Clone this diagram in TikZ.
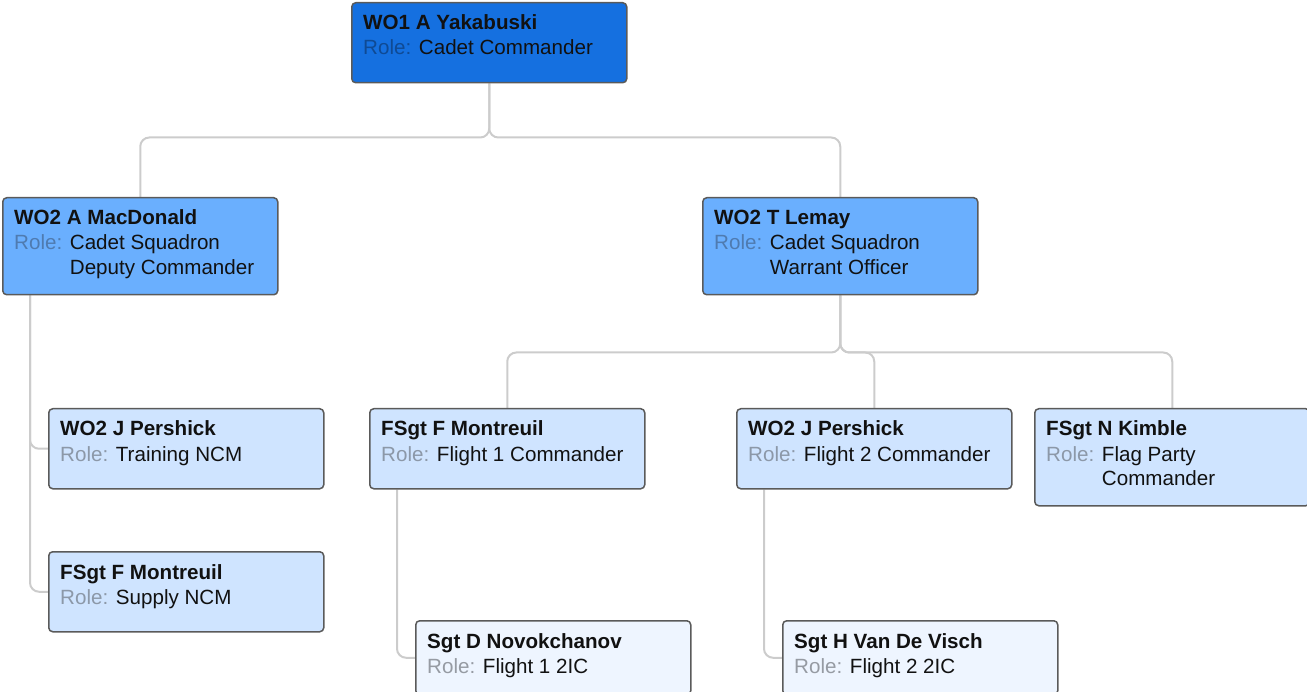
\documentclass[tikz,border=0pt]{standalone}
\usepackage{fontspec}
\setmainfont{Liberation Sans}
\usetikzlibrary{backgrounds}
\definecolor{lvlA}{HTML}{1570E0}
\definecolor{lvlB}{HTML}{6AAFFE}
\definecolor{lvlC}{HTML}{CFE4FF}
\definecolor{lvlD}{HTML}{EEF5FF}
\definecolor{roleA}{HTML}{0F4A94}
\definecolor{roleB}{HTML}{4F7BB0}
\definecolor{roleC}{HTML}{8C98A8}
\definecolor{roleD}{HTML}{969BA3}
\definecolor{cardborder}{HTML}{5A5A5A}
\definecolor{conngray}{HTML}{CCCCCC}
\definecolor{txtblack}{HTML}{111111}
\tikzset{
  card/.style={draw=cardborder, line width=1.5pt, rounded corners=4pt, anchor=north west, minimum width=275pt, inner sep=0pt},
  conn/.style={draw=conngray, line width=2pt, rounded corners=9pt},
  cardtext/.style={anchor=base west, inner sep=0pt, text=txtblack, font=\fontsize{20.6}{25}\selectfont}
}
\newcommand\orgcard[8]{%
  \node[card, fill=#5, minimum height=#4pt] (#1) at (#2,#3) {};
  \node[cardtext] (#1t) at ([shift={(12pt,-28pt)}]#1.north west)
    {\parbox[t]{258pt}{\raggedright\textbf{#7}\\\textcolor{#6}{Role:} #8}};
}
\newcommand\tworow[2]{\begin{tabular}[t]{@{}l@{}}#1\\#2\end{tabular}}
\begin{document}
\begin{tikzpicture}[x=1pt, y=-1pt]
\useasboundingbox (0,0) rectangle (1307,692);
\clip (0,0) rectangle (1307,692);
\orgcard{top}{351}{2}{80}{lvlA}{roleA}{WO1 A Yakabuski}{Cadet Commander}
\orgcard{mac}{2}{197}{97}{lvlB}{roleB}{WO2 A MacDonald}{\tworow{Cadet Squadron}{Deputy Commander}}
\orgcard{lem}{702}{197}{97}{lvlB}{roleB}{WO2 T Lemay}{\tworow{Cadet Squadron}{Warrant Officer}}
\orgcard{pera}{48}{408}{80}{lvlC}{roleC}{WO2 J Pershick}{Training NCM}
\orgcard{mona}{48}{551}{80}{lvlC}{roleC}{FSgt F Montreuil}{Supply NCM}
\orgcard{monb}{369}{408}{80}{lvlC}{roleC}{FSgt F Montreuil}{Flight 1 Commander}
\orgcard{perb}{736}{408}{80}{lvlC}{roleC}{WO2 J Pershick}{Flight 2 Commander}
\orgcard{kim}{1034}{408}{97}{lvlC}{roleC}{FSgt N Kimble}{\tworow{Flag Party}{Commander}}
\orgcard{nov}{415}{620}{74}{lvlD}{roleD}{Sgt D Novokchanov}{Flight 1 2IC}
\orgcard{vis}{782}{620}{74}{lvlD}{roleD}{Sgt H Van De Visch}{Flight 2 2IC}
\begin{scope}[on background layer]
\draw[conn] (top.south) -- ++(0,54) -| (mac.north);
\draw[conn] (top.south) -- ++(0,54) -| (lem.north);
\draw[conn] ([xshift=28pt]mac.south west) |- (pera.west);
\draw[conn] ([xshift=28pt]mac.south west) |- (mona.west);
\draw[conn] (lem.south) -- ++(0,57) -| (monb.north);
\draw[conn] (lem.south) -- ++(0,57) -| (perb.north);
\draw[conn] (lem.south) -- ++(0,57) -| (kim.north);
\draw[conn] ([xshift=28pt]monb.south west) |- (nov.west);
\draw[conn] ([xshift=28pt]perb.south west) |- (vis.west);
\end{scope}
\end{tikzpicture}
\end{document}
